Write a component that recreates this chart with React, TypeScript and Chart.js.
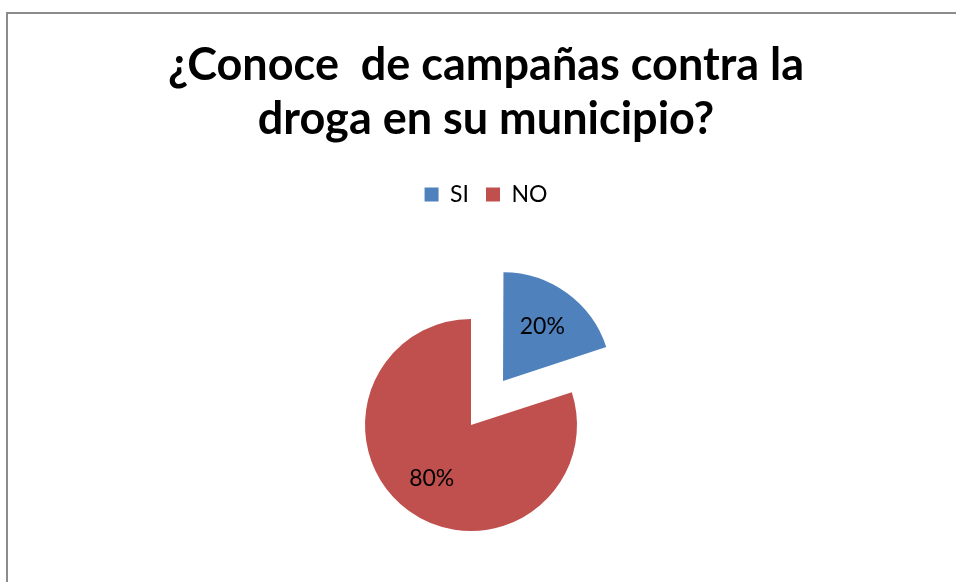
import React, { useEffect, useRef } from 'react';
import Chart from 'chart.js/auto';

// ---- data ----
const titleLines = ['¿Conoce  de campañas contra la', 'droga en su municipio?'];
const categories = ['SI', 'NO'];
const values = [20, 80];
const sliceColors = ['#4F81BD', '#C0504D'];
const sliceExplode = [218, 0];

// shifts the plot area relative to title/legend (Excel plot-area placement)
const plotShift = {
  id: 'plotShift',
  afterLayout(chart: any, _args: any, opts: any) {
    const a = chart.chartArea;
    const dx = opts.dx || 0;
    const dy = opts.dy || 0;
    a.left += dx; a.right += dx;
    a.top += dy; a.bottom += dy;
  },
};

const pctLabels = {
  id: 'pctLabels',
  afterDatasetsDraw(chart: any) {
    const ctx = chart.ctx;
    const meta = chart.getDatasetMeta(0);
    const data = chart.data.datasets[0].data as number[];
    const total = data.reduce((s, v) => s + v, 0);
    meta.data.forEach((arc: any, i: number) => {
      const p = arc.getProps(['x', 'y', 'startAngle', 'endAngle', 'outerRadius'], true);
      const off = (arc.options.offset || 0) / 4;
      const mid = (p.startAngle + p.endAngle) / 2;
      const r = off + p.outerRadius * 0.63;
      ctx.save();
      ctx.font = '23px Lato';
      ctx.fillStyle = '#000';
      ctx.textAlign = 'center';
      ctx.textBaseline = 'middle';
      ctx.fillText(Math.round((data[i] / total) * 100) + '%', p.x + Math.cos(mid) * r, p.y + Math.sin(mid) * r);
      ctx.restore();
    });
  },
};

export default function App() {
  const ref = useRef<HTMLCanvasElement>(null);
  useEffect(() => {
    if (!ref.current) return;
    const chart = new Chart(ref.current, {
      type: 'pie',
      data: {
        labels: categories,
        datasets: [
          {
            data: values,
            backgroundColor: sliceColors,
            borderWidth: 0,
            offset: sliceExplode,
            hoverOffset: 0,
          },
        ],
      },
      options: {
        responsive: false,
        animation: false,
        events: [],
        layout: { padding: 0 },
        plugins: {
          title: {
            display: true,
            text: titleLines,
            color: '#000',
            font: { family: 'Lato', weight: 'bold', size: 45, lineHeight: '54px' },
            padding: { top: 38, bottom: 20 },
          },
          legend: {
            display: true,
            position: 'top',
            labels: {
              color: '#000',
              font: { family: 'Lato', size: 23 },
              boxWidth: 14,
              boxHeight: 14,
              padding: 17,
            },
          },
          tooltip: { enabled: false },
          plotShift: { dx: -15, dy: -6 },
        } as any,
      },
      plugins: [plotShift, pctLabels],
    });
    return () => chart.destroy();
  }, []);

  return (
    <div style={{ position: 'fixed', left: 0, top: 0, width: 956, height: 582, overflow: 'hidden', background: '#fff' }}>
      <div
        style={{
          position: 'absolute', left: 6, top: 12, width: 2000, height: 2000,
          borderLeft: '2px solid #8c8c8c', borderTop: '2px solid #8c8c8c',
        }}
      />
      <canvas ref={ref} width={956} height={646} style={{ position: 'absolute', left: 8, top: 0, width: 956, height: 646 }} />
    </div>
  );
}
